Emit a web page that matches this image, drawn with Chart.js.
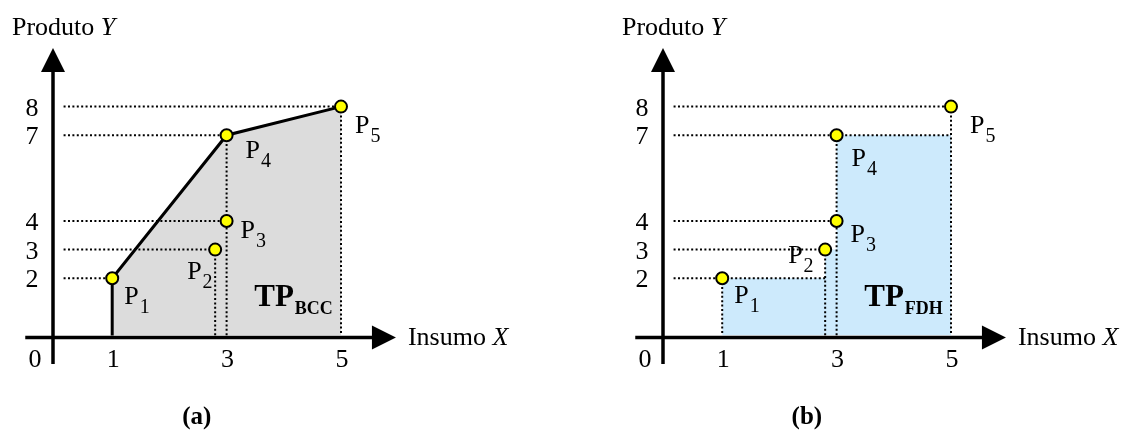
<!DOCTYPE html>
<html>
<head>
<meta charset="utf-8">
<script src="https://cdn.jsdelivr.net/npm/chart.js@4.4.1/dist/chart.umd.min.js"></script>
<style>
  body { margin: 0; background: #fff; }
  canvas { position: absolute; top: 0; }
  #graficoA { left: 0; }
  #graficoB { left: 564px; }
</style>
</head>
<body>
<canvas id="graficoA" width="564" height="432"></canvas>
<canvas id="graficoB" width="564" height="432"></canvas>
<script>
// unidades P1..P5
const nomes = ['1', '2', '3', '4', '5'];
const insumoX = [1, 2.8, 3, 3, 5];
const produtoY = [2, 3, 4, 7, 8];
const ticksX = [1, 3, 5];
const ticksY = [2, 3, 4, 7, 8];
// fronteira BCC: P1 -> P4 -> P5
const fronteiraBCC = [0, 3, 4];
// no FDH as linhas de P1 e P4 seguem até o próximo degrau
const degrausFDH = [0, 3];

const FONTE = '"Liberation Serif", "Times New Roman", serif';
const pt = i => ({ x: insumoX[i], y: produtoY[i] });
const ptsIdx = insumoX.map((_, i) => i);

function pontilhado(data) {
  return {
    data, showLine: true, borderColor: '#000', borderWidth: 2,
    borderDash: [2, 2.4], pointRadius: 0, fill: false, clip: false, order: 5
  };
}

// linhas de referência até os eixos
function guias(modelo) {
  const out = [];
  const inicio = 0.15;
  ptsIdx.forEach(i => {
    let fim = insumoX[i];
    if (modelo === 'FDH' && degrausFDH.includes(i)) {
      const prox = ptsIdx.filter(j => insumoX[j] > insumoX[i] && produtoY[j] > produtoY[i]);
      fim = Math.min(...prox.map(j => insumoX[j]));
      fim = Math.min(fim, Math.max(...insumoX));
    }
    out.push(pontilhado([{ x: inicio, y: produtoY[i] }, { x: fim, y: produtoY[i] }]));
  });
  // verticais: só a partir do ponto mais alto de cada x
  const xs = [...new Set(insumoX)];
  xs.forEach(x => {
    const topo = Math.max(...ptsIdx.filter(i => insumoX[i] === x).map(i => produtoY[i]));
    if (modelo === 'BCC' && x === insumoX[fronteiraBCC[0]]) return;
    out.push(pontilhado([{ x, y: topo }, { x, y: 0 }]));
  });
  return out;
}

function regiaoBCC() {
  const f = fronteiraBCC.map(pt);
  return [{ x: f[0].x, y: 0 }, ...f, { x: f[f.length - 1].x, y: 0 }];
}

function regiaoFDH() {
  const ord = [...ptsIdx].sort((a, b) => insumoX[a] - insumoX[b] || produtoY[a] - produtoY[b]);
  const out = [{ x: insumoX[ord[0]], y: 0 }];
  let topo = 0;
  ord.forEach((i, k) => {
    out.push({ x: insumoX[i], y: topo });
    if (k < ord.length - 1) {
      topo = Math.max(topo, produtoY[i]);
      out.push({ x: insumoX[i], y: topo });
    }
  });
  out.push({ x: insumoX[ord[ord.length - 1]], y: 0 });
  return out;
}

function textoSub(ctx, base, sub, x, y, tam, tamSub, negrito, dy) {
  const peso = negrito ? 'bold ' : '';
  ctx.font = peso + tam + 'px ' + FONTE;
  ctx.textAlign = 'left';
  ctx.textBaseline = 'alphabetic';
  ctx.fillText(base, x, y);
  const w = ctx.measureText(base).width;
  ctx.font = peso + tamSub + 'px ' + FONTE;
  ctx.fillText(sub, x + w + 1, y + dy);
}

const eixosPlugin = {
  id: 'eixos',
  afterDatasetsDraw(chart, args, opts) {
    const { ctx } = chart;
    const sx = chart.scales.x, sy = chart.scales.y;
    const ox = sx.getPixelForValue(0) - 2;
    const oy = sy.getPixelForValue(0) + 2;
    const px = v => sx.getPixelForValue(v);
    const py = v => sy.getPixelForValue(v);
    ctx.save();
    ctx.strokeStyle = '#000';
    ctx.fillStyle = '#000';
    ctx.lineWidth = 3.5;

    // eixo Y com seta
    const topoY = py(10.05);
    ctx.beginPath();
    ctx.moveTo(ox, py(-1.0));
    ctx.lineTo(ox, topoY + 20);
    ctx.stroke();
    ctx.beginPath();
    ctx.moveTo(ox, topoY);
    ctx.lineTo(ox - 12, topoY + 24);
    ctx.lineTo(ox + 12, topoY + 24);
    ctx.closePath();
    ctx.fill();

    // eixo X com seta
    const fimX = px(5.96);
    ctx.beginPath();
    ctx.moveTo(px(-0.52), oy);
    ctx.lineTo(fimX - 20, oy);
    ctx.stroke();
    ctx.beginPath();
    ctx.moveTo(fimX, oy);
    ctx.lineTo(fimX - 24, oy - 12);
    ctx.lineTo(fimX - 24, oy + 12);
    ctx.closePath();
    ctx.fill();

    // rótulos dos ticks
    ctx.font = '26px ' + FONTE;
    ctx.textAlign = 'center';
    ctx.textBaseline = 'alphabetic';
    ctx.fillText('0', ox - 18, oy + 30);
    ticksX.forEach(v => ctx.fillText(String(v), px(v) + 1, oy + 30));
    ticksY.forEach(v => ctx.fillText(String(v), ox - 21, py(v) + 9));

    // títulos dos eixos
    ctx.textAlign = 'left';
    ctx.font = '26px ' + FONTE;
    ctx.fillText('Produto ', ox - 41, 35);
    let w = ctx.measureText('Produto ').width;
    ctx.font = 'italic 26px ' + FONTE;
    ctx.fillText('Y', ox - 41 + w, 35);
    ctx.font = '26px ' + FONTE;
    ctx.fillText('Insumo ', fimX + 12, oy + 8);
    w = ctx.measureText('Insumo ').width;
    ctx.font = 'italic 26px ' + FONTE;
    ctx.fillText('X', fimX + 12 + w, oy + 8);

    // nomes dos pontos
    opts.desloc.forEach((d, i) => {
      textoSub(ctx, 'P', nomes[i], px(insumoX[i]) + d[0], py(produtoY[i]) + d[1], 26, 20, false, 9);
    });

    // TP com subscrito
    textoSub(ctx, 'TP', opts.modelo, px(3.5) - 1, py(1.0) - 1, 31, 18, true, 8);

    // (a) / (b)
    ctx.font = 'bold 25px ' + FONTE;
    ctx.textAlign = 'center';
    ctx.fillText(opts.letra, px(2.48), 424);
    ctx.restore();
  }
};

function criarGrafico(id, modelo, esquerda, corRegiao, letra, desloc) {
  const regiao = modelo === 'BCC' ? regiaoBCC() : regiaoFDH();
  const datasets = [
    {
      data: ptsIdx.map(pt), pointRadius: 6, pointBackgroundColor: '#ffff00',
      pointBorderColor: '#000', pointBorderWidth: 2, showLine: false, clip: false, order: 1
    },
    {
      data: regiao, showLine: true, borderWidth: 0, borderColor: 'rgba(0,0,0,0)',
      backgroundColor: corRegiao, fill: 'origin', pointRadius: 0, clip: false, order: 9
    },
    ...guias(modelo)
  ];
  if (modelo === 'BCC') {
    const linha = [{ x: insumoX[fronteiraBCC[0]], y: 0 }, ...fronteiraBCC.map(pt)];
    datasets.push({
      data: linha, showLine: true, borderColor: '#000', borderWidth: 3,
      pointRadius: 0, fill: false, clip: false, order: 2
    });
  }
  const larguraX = 6 * 57.2, alturaY = 10 * 28.6;
  new Chart(document.getElementById(id), {
    type: 'scatter',
    data: { datasets },
    options: {
      responsive: false,
      animation: false,
      devicePixelRatio: 1,
      layout: {
        padding: {
          left: esquerda, right: 564 - esquerda - larguraX,
          top: 335.4 - alturaY, bottom: 432 - 335.4
        }
      },
      scales: {
        x: { type: 'linear', min: 0, max: 6, display: false },
        y: { type: 'linear', min: 0, max: 10, display: false }
      },
      plugins: {
        legend: { display: false },
        tooltip: { enabled: false },
        eixos: { modelo, letra, desloc }
      }
    },
    plugins: [eixosPlugin]
  });
}

criarGrafico('graficoA', 'BCC', 55, '#dcdcdc', '(a)',
  [[12, 26], [-28, 29], [14, 17], [19, 23], [14, 26]]);
criarGrafico('graficoB', 'FDH', 101, '#cdeafc', '(b)',
  [[12, 25], [-37, 13], [14, 21], [15, 31], [19, 26]]);
</script>
</body>
</html>
